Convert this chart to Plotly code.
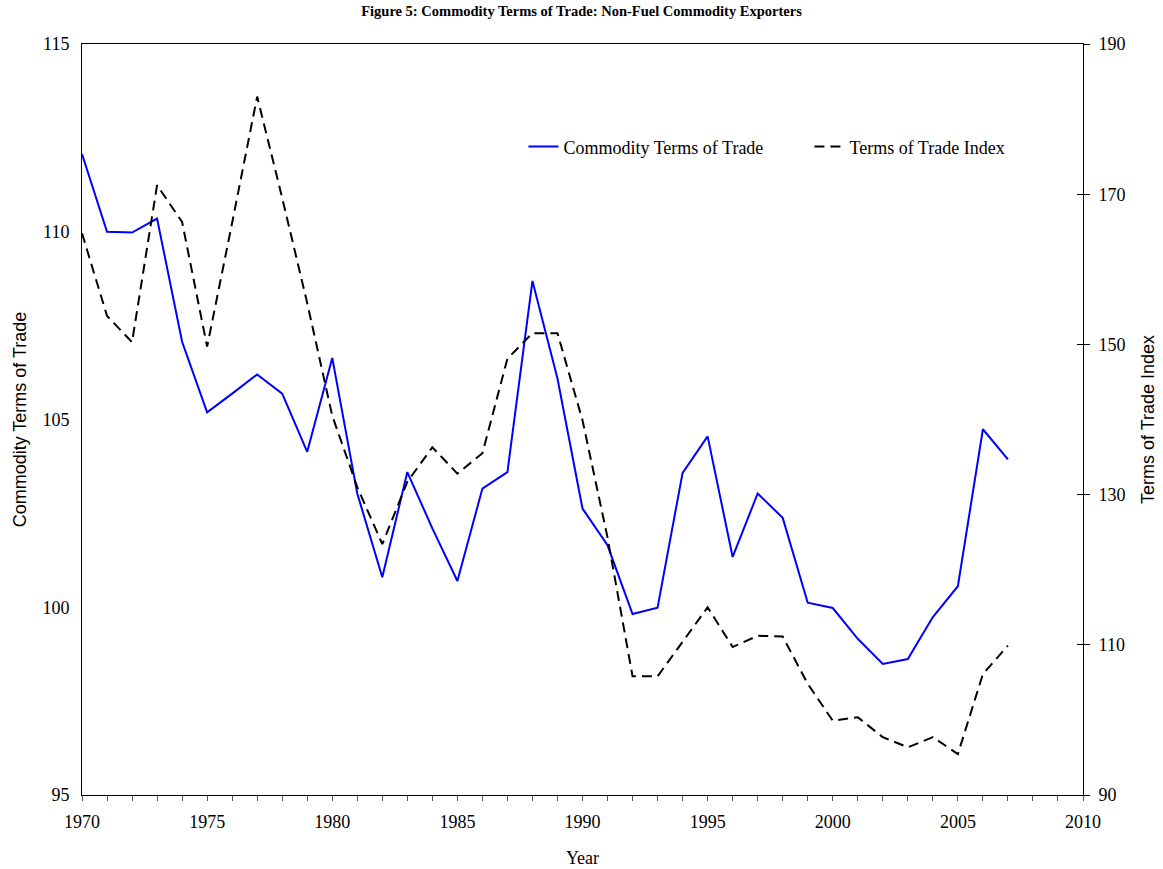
import plotly.graph_objects as go

years = list(range(1970, 2008))
commodity_tot = [112.07, 110.0, 109.98, 110.35, 107.07, 105.19, 105.69, 106.2, 105.69, 104.14,
                 106.64, 103.03, 100.8, 103.6, 102.1, 100.7, 103.16, 103.6, 108.69, 106.09,
                 102.63, 101.65, 99.82, 99.99, 103.58, 104.55, 101.34, 103.03, 102.38, 100.12,
                 99.98, 99.16, 98.49, 98.62, 99.74, 100.56, 104.74, 103.94]
tot_index = [164.8, 153.8, 150.3, 171.2, 166.3, 149.7, 166.2, 183.0, 169.5, 155.5,
             140.5, 131.0, 123.4, 131.7, 136.3, 132.8, 135.5, 148.1, 151.5, 151.5,
             139.9, 124.3, 105.8, 105.8, 110.4, 115.0, 109.7, 111.2, 111.1, 104.8,
             99.9, 100.35, 97.7, 96.35, 97.7, 95.45, 106.1, 109.9]

SERIF = "Liberation Serif, Times New Roman, serif"
SANS = "Liberation Sans, Arial, sans-serif"

fig = go.Figure()
fig.add_trace(go.Scatter(x=years, y=commodity_tot, mode="lines", name="Commodity Terms of Trade",
                         line=dict(color="#0000FF", width=2), yaxis="y"))
fig.add_trace(go.Scatter(x=years, y=tot_index, mode="lines", name="Terms of Trade Index",
                         line=dict(color="#000000", width=2, dash="10px,6px"), yaxis="y2"))
# empty helper trace so the inner half of the right-axis cross ticks is drawn
fig.add_trace(go.Scatter(x=[], y=[], yaxis="y3", showlegend=False, hoverinfo="skip"))

fig.update_layout(
    width=1163, height=869,
    paper_bgcolor="white", plot_bgcolor="white",
    margin=dict(l=82, r=80, t=44, b=74, autoexpand=False),
    title=dict(text="<b>Figure 5: Commodity Terms of Trade: Non-Fuel Commodity Exporters</b>",
               x=0.5, xanchor="center", y=0.9875, yanchor="middle", yref="container",
               font=dict(family=SERIF, size=14.5, color="black")),
    xaxis=dict(range=[1970, 2010], dtick=5, tick0=1970, showgrid=False, zeroline=False,
               showline=True, linecolor="black", linewidth=1, mirror=True, automargin=False,
               ticks="outside", ticklen=5, tickcolor="#555555", ticklabelstandoff=5,
               minor=dict(dtick=1, ticks="outside", ticklen=5, tickcolor="#555555", showgrid=False),
               tickfont=dict(family=SERIF, size=18, color="black"),
               title=dict(text="Year", font=dict(family=SERIF, size=18, color="black"), standoff=20)),
    yaxis=dict(range=[95, 115], dtick=5, showgrid=False, zeroline=False, automargin=False,
               showline=True, linecolor="black", linewidth=1, ticks="", ticklabelstandoff=8,
               tickfont=dict(family=SERIF, size=18, color="black"),
               title=dict(text="Commodity Terms of Trade", font=dict(family=SANS, size=18, color="black"),
                          standoff=11)),
    yaxis2=dict(range=[90, 190], tick0=90, dtick=20, overlaying="y", side="right", showgrid=False,
                zeroline=False, automargin=False,
                showline=True, linecolor="black", linewidth=1, ticks="outside", ticklen=6,
                tickcolor="black", ticklabelstandoff=5,
                tickfont=dict(family=SERIF, size=18, color="black"),
                title=dict(text="Terms of Trade Index", font=dict(family=SANS, size=18, color="black"),
                           standoff=16)),
    yaxis3=dict(range=[90, 190], tick0=90, dtick=20, overlaying="y", side="right", showgrid=False,
                zeroline=False, automargin=False, showline=False, ticks="inside", ticklen=6,
                tickcolor="black", showticklabels=False),
    legend=dict(orientation="h", x=0.441, xanchor="left", y=0.863, yanchor="middle",
                font=dict(family=SERIF, size=18, color="black"), bgcolor="rgba(0,0,0,0)",
                entrywidth=241, itemwidth=30),
    showlegend=True,
)

fig.write_html("out.html", config={"displayModeBar": False},
               post_script="document.body.style.margin='0px';")
